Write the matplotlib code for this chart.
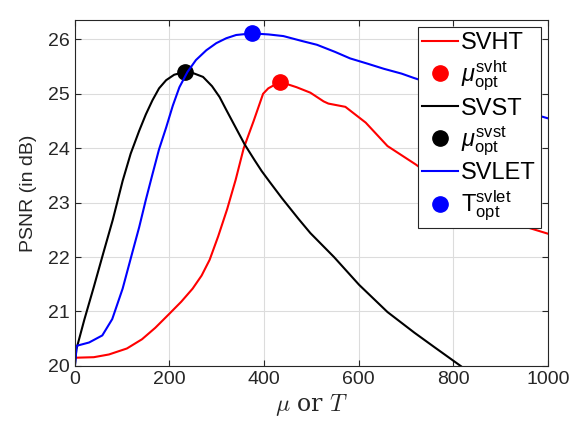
import numpy as np
import matplotlib
matplotlib.use('Agg')
import matplotlib.pyplot as plt

plt.rcParams['font.family'] = ['Liberation Sans', 'DejaVu Sans']
plt.rcParams['mathtext.fontset'] = 'custom'
plt.rcParams['mathtext.rm'] = 'Liberation Sans'
plt.rcParams['mathtext.it'] = 'Liberation Sans:italic'

# SVHT curve (red)
svht_x = [0, 40, 72, 110, 142, 170, 200, 225, 249, 268, 285, 303, 322, 340, 357, 378,
          398, 409, 434, 469, 498, 526, 536, 572, 615, 661, 721, 760, 800, 850, 900,
          923, 936, 1000]
svht_y = [20.15, 20.16, 20.21, 20.32, 20.49, 20.7, 20.96, 21.18, 21.42, 21.66, 21.95,
          22.38, 22.88, 23.42, 24.0, 24.5, 25.0, 25.1, 25.22, 25.12, 25.02, 24.86, 24.82,
          24.76, 24.47, 24.04, 23.7, 23.45, 23.25, 23.0, 22.78, 22.68, 22.6, 22.43]

# SVST curve (black)
svst_x = [0, 3, 20, 40, 60, 80, 101, 118, 136, 150, 164, 178, 193, 210, 232, 250,
          271, 290, 306, 321, 340, 359, 380, 395, 412, 438, 473, 498, 548, 601, 661,
          718, 761, 814, 850]
svst_y = [20.0, 20.3, 20.85, 21.45, 22.07, 22.68, 23.4, 23.9, 24.32, 24.62, 24.88,
          25.1, 25.25, 25.35, 25.4, 25.38, 25.31, 25.14, 24.94, 24.69, 24.38, 24.07,
          23.78, 23.58, 23.38, 23.08, 22.7, 22.44, 22.0, 21.49, 20.99, 20.61, 20.34,
          20.01, 19.78]

# SVLET curve (blue)
svlet_x = [0, 4, 30, 58, 79, 101, 122, 136, 150, 164, 178, 193, 207, 221, 238, 256,
           278, 299, 320, 341, 375, 410, 441, 480, 512, 550, 582, 620, 653, 691, 717,
           760, 850, 920, 980, 1000]
svlet_y = [20.0, 20.37, 20.43, 20.56, 20.86, 21.42, 22.1, 22.55, 23.05, 23.52, 23.98,
           24.38, 24.78, 25.12, 25.4, 25.62, 25.8, 25.93, 26.02, 26.08, 26.11, 26.09,
           26.06, 25.97, 25.9, 25.77, 25.65, 25.55, 25.46, 25.37, 25.29, 25.17, 24.93,
           24.75, 24.6, 24.55]

# optimal points
opt_x = [434, 232, 375]
opt_y = [25.22, 25.4, 26.11]

fig = plt.figure(figsize=(5.76, 4.32), dpi=100)
ax = fig.add_axes([0.13, 0.153, 0.821, 0.8])

dark = '#262626'
ax.plot(svht_x, svht_y, color='r', lw=1.5, label='SVHT')
ax.plot(opt_x[0], opt_y[0], 'o', color='r', ms=11, label=r'$\mu^{\mathrm{svht}}_{\mathrm{opt}}$')
ax.plot(svst_x, svst_y, color='k', lw=1.5, label='SVST')
ax.plot(opt_x[1], opt_y[1], 'o', color='k', ms=11, label=r'$\mu^{\mathrm{svst}}_{\mathrm{opt}}$')
ax.plot(svlet_x, svlet_y, color='b', lw=1.5, label='SVLET')
ax.plot(opt_x[2], opt_y[2], 'o', color='b', ms=11, label=r'$\mathrm{T}^{\mathrm{svlet}}_{\mathrm{opt}}$')

ax.set_xlim(0, 1000)
ax.set_ylim(20, 26.35)
ax.set_xticks([0, 200, 400, 600, 800, 1000])
ax.set_yticks([20, 21, 22, 23, 24, 25, 26])
ax.grid(True, color='#dcdcdc', lw=0.8)
ax.set_axisbelow(True)
ax.tick_params(direction='in', top=True, right=True, labelsize=14, colors=dark, length=4)
for s in ax.spines.values():
    s.set_color(dark)
    s.set_linewidth(0.8)

ax.set_ylabel('PSNR (in dB)', fontsize=14, color=dark, labelpad=8)
ax.set_xlabel(r'$\mu$ or $T$', fontsize=17, color=dark, math_fontfamily='cm',
              labelpad=3)
ax.xaxis.label.set_fontfamily(['DejaVu Serif'])

leg = ax.legend(loc='upper right', fontsize=17, frameon=True, fancybox=False,
                framealpha=1, edgecolor=dark, borderaxespad=0.3, labelspacing=0.2,
                handlelength=1.5, handletextpad=0.15, borderpad=0.2)
leg.get_frame().set_linewidth(0.8)

fig.savefig('out.png', dpi=100)
